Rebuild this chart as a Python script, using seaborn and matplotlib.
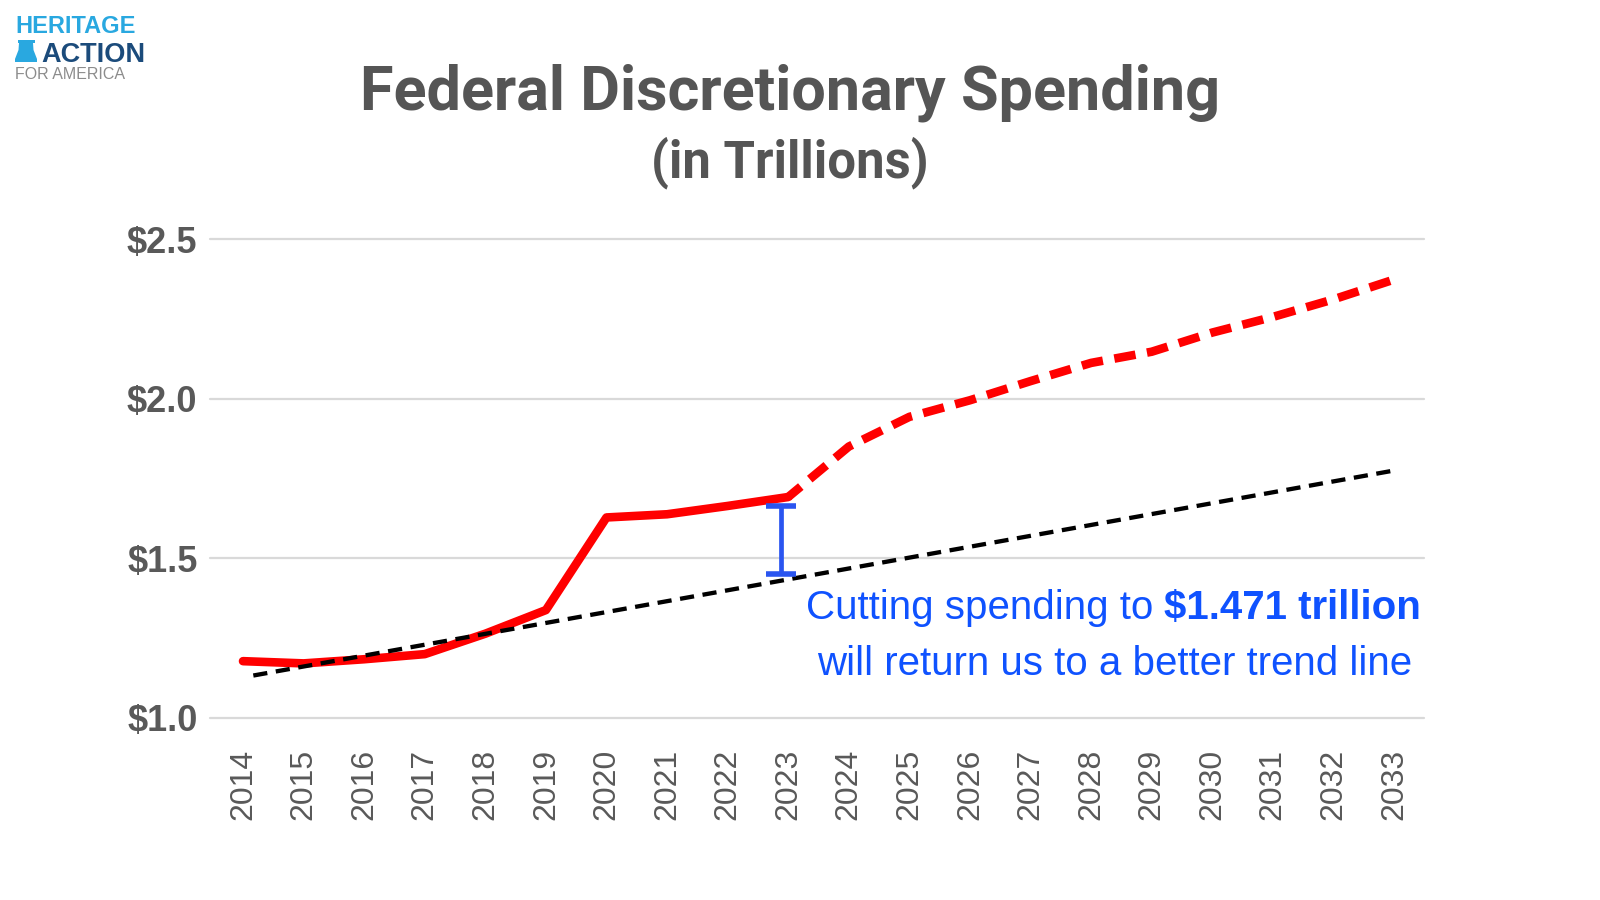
import matplotlib
matplotlib.use("Agg")
import matplotlib.pyplot as plt
import seaborn as sns
from matplotlib.patches import Polygon

# ---------------- data ----------------
years_actual = [2014, 2015, 2016, 2017, 2018, 2019, 2020, 2021, 2022, 2023]
spending_actual = [1.178, 1.171, 1.184, 1.200, 1.264, 1.338, 1.628, 1.638, 1.664, 1.692]
years_projected = [2023, 2024, 2025, 2026, 2027, 2028, 2029, 2030, 2031, 2032, 2033]
spending_projected = [1.692, 1.850, 1.943, 1.995, 2.055, 2.112, 2.147, 2.207, 2.256, 2.311, 2.373]
trend_years = [2014.17, 2033]
trend_values = [1.133, 1.775]
gap_year = 2022.88
gap_top = 1.664
gap_bottom = 1.450
y_ticks = [1.0, 1.5, 2.0, 2.5]
y_tick_labels = ["$1.0", "$1.5", "$2.0", "$2.5"]
x_years = list(range(2014, 2034))
x_tick_labels = [str(y) for y in x_years]

title = "Federal Discretionary Spending"
subtitle = "(in Trillions)"
note_regular = "Cutting spending to "
note_bold = "$1.471 trillion"
note_line2 = "will return us to a better trend line"

# ---------------- style ----------------
sns.set_theme(style="white")
plt.rcParams['font.family'] = ['Liberation Sans', 'DejaVu Sans']

W, H = 1600, 900
def fx(px):
    return px / W
def fy(py):
    return 1 - py / H

fig = plt.figure(figsize=(16, 9), dpi=100, facecolor="white")
ax = fig.add_axes([fx(210), fy(718), (1424 - 210) / W, (718 - 239) / H])
ax.set_facecolor("white")

RED = "#ff0000"
BLUE_TXT = "#0f52ff"
BLUE_BAR = "#2a55f0"
GRAY = "#595959"

sns.lineplot(x=years_actual, y=spending_actual, ax=ax, color=RED, linewidth=6.2,
             solid_capstyle="round", solid_joinstyle="round")
sns.lineplot(x=years_projected, y=spending_projected, ax=ax, color=RED, linewidth=6.2,
             linestyle=(0.6, (2.5, 1.35)), dash_capstyle="butt")
sns.lineplot(x=trend_years, y=trend_values, ax=ax, color="black", linewidth=3.1,
             linestyle=(0, (3.3, 2.0)), dash_capstyle="butt")

ax.errorbar([gap_year], [(gap_top + gap_bottom) / 2], yerr=[(gap_top - gap_bottom) / 2],
            fmt="none", ecolor=BLUE_BAR, elinewidth=3.4, capsize=11, capthick=4, zorder=5)

ax.set_xlim(2013.455, 2033.495)
ax.set_ylim(1.0, 2.5)
ax.set_yticks(y_ticks, labels=y_tick_labels)
ax.set_xticks(x_years, labels=x_tick_labels, rotation=90)
for lab in ax.get_yticklabels():
    lab.set_fontweight("bold")
    lab.set_fontsize(26)
    lab.set_color(GRAY)
for lab in ax.get_xticklabels():
    lab.set_fontsize(23)
    lab.set_color(GRAY)
ax.tick_params(axis="y", length=0, pad=9)
ax.tick_params(axis="x", length=0, pad=22)
ax.grid(axis="y", color="#d9d9d9", linewidth=1.6)
ax.grid(axis="x", visible=False)
for gl in ax.get_ygridlines():
    gl.set_clip_on(False)
for s in ax.spines.values():
    s.set_visible(False)
ax.set_xlabel("")
ax.set_ylabel("")

# ---------------- texts ----------------
t_title = fig.text(fx(790), fy(93), title, ha="center", va="center", fontsize=40,
                   fontweight="bold", color="#555555", family=["Roboto", "DejaVu Sans"])
t_sub = fig.text(fx(790), fy(163), subtitle, ha="center", va="center", fontsize=30,
                 fontweight="bold", color="#555555", family=["Roboto", "DejaVu Sans"])

t_bold = fig.text(fx(1421), fy(608), note_bold, ha="right", va="center", fontsize=26.5,
                  fontweight="bold", color=BLUE_TXT)
t_reg = fig.text(fx(900), fy(608), note_regular, ha="right", va="center", fontsize=26.5,
                 color=BLUE_TXT)
t_l2 = fig.text(fx(1115), fy(664), note_line2, ha="center", va="center", fontsize=26.5,
                color=BLUE_TXT)

# logo
t_her = fig.text(fx(15), fy(33), "HERITAGE", ha="left", va="baseline", fontsize=17,
                 fontweight="bold", color="#29a8e0", family=["Liberation Sans", "DejaVu Sans"])
t_act = fig.text(fx(41), fy(62), "ACTION", ha="left", va="baseline", fontsize=19.5,
                 fontweight="bold", color="#1b4b7b", family=["Liberation Sans", "DejaVu Sans"])
t_for = fig.text(fx(15), fy(79), "FOR AMERICA", ha="left", va="baseline", fontsize=11.5,
                 color="#8c8c8c", family=["Liberation Sans", "DejaVu Sans"])
bell_px = [(18, 40), (35, 40), (35, 43), (33, 43), (33.5, 50), (37, 59), (37, 62),
           (15, 62), (15, 59), (18.5, 50), (19, 43), (18, 43)]
fig.patches.append(Polygon([(fx(x), fy(y)) for x, y in bell_px], closed=True,
                           transform=fig.transFigure, facecolor="#29a8e0", edgecolor="none"))

# fit widths to reference
fig.canvas.draw()
r = fig.canvas.get_renderer()
def fit(t, target):
    w = t.get_window_extent(r).width
    t.set_fontsize(t.get_fontsize() * target / w)

fit(t_title, 860)
fit(t_sub, 278)
fit(t_l2, 593)
t_bold.set_fontsize(t_l2.get_fontsize())
t_reg.set_fontsize(t_l2.get_fontsize())
fig.canvas.draw()
bb = t_bold.get_window_extent(r)
t_reg.set_position((bb.x0 / W, fy(608)))

fig.savefig("out.png", dpi=100, facecolor="white")
